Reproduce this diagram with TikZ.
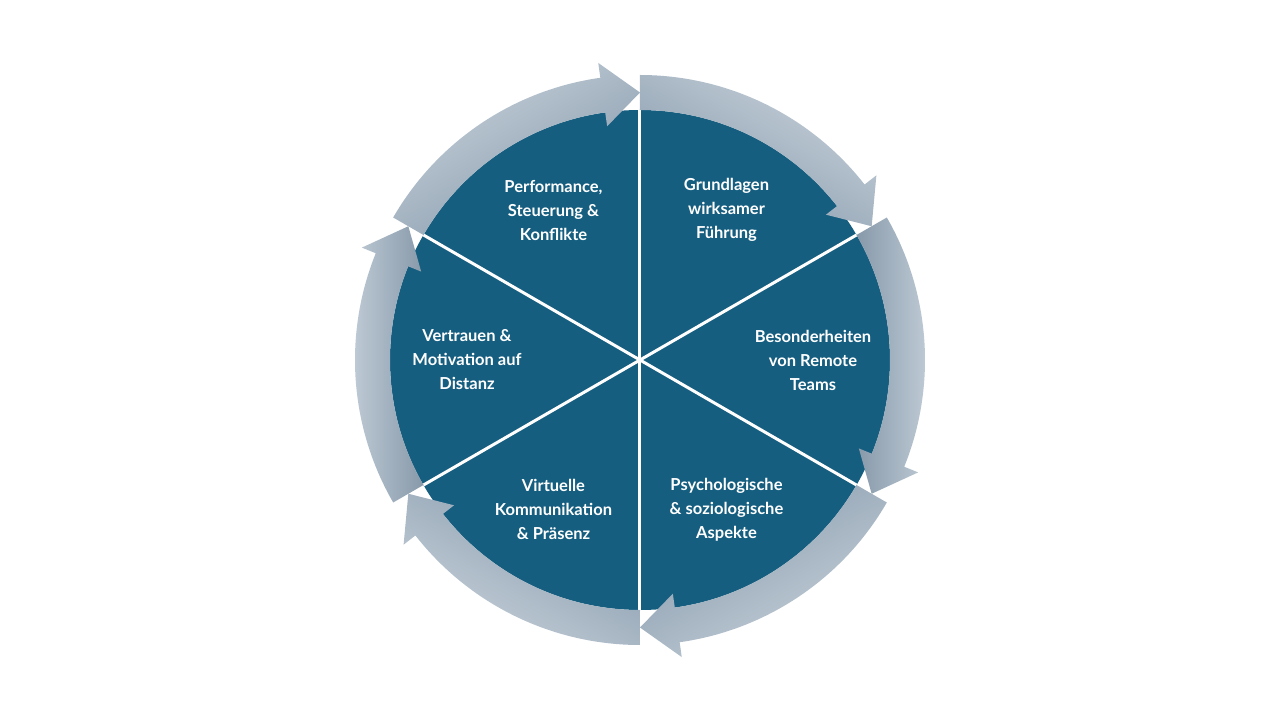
\documentclass[tikz,border=0pt]{standalone}
\usepackage{fontspec}
\setmainfont{Lato}
\begin{document}
\begin{tikzpicture}[x=1pt,y=1pt,
  wedge/.style={fill=wedgeblue},
  sep/.style={white,line width=3pt},
  lbl/.style={white,font=\bfseries\fontsize{16.5}{24}\selectfont,align=center},
  arr/.style={left color=arrlight,right color=arrdark}]
\definecolor{wedgeblue}{HTML}{155E80}
\definecolor{arrlight}{HTML}{C6D1DB}
\definecolor{arrdark}{HTML}{8799AA}
\useasboundingbox (-640,-360) rectangle (640,360);
\coordinate (c) at (0,0);
\fill[wedge] (c) circle[radius=250];
\foreach \a in {90,30,-30,-90,-150,150}
  \draw[sep] (c) -- (\a:250) coordinate (s\a);
\def\ri{250}\def\ro{285}\def\rm{267.5}\def\rii{236}\def\roo{300}
\foreach \a in {90,30,-30,-90,-150,150}{
  \pgfmathsetmacro{\b}{\a-60}
  \pgfmathsetmacro{\h}{\a-52}
  \pgfmathsetmacro{\sa}{\a-120}
  \path[arr,shading angle=\sa] (\a:\ro) arc[start angle=\a,end angle=\h,radius=\ro]
    -- (\h:\roo) -- (\b:\rm) -- (\h:\rii) -- (\h:\ri)
    arc[start angle=\h,end angle=\a,radius=\ri] -- cycle;
}
\node[lbl] (t1) at (60:173) {Grundlagen\\wirksamer\\Führung};
\node[lbl] (t2) at (0:173) {Besonderheiten\\von Remote\\Teams};
\node[lbl] (t3) at (-60:173) {Psychologische\\\& soziologische\\Aspekte};
\node[lbl] (t4) at (-120:173) {Virtuelle\\Kommunikation\\\& Präsenz};
\node[lbl] (t5) at (180:173) {Vertrauen \&\\Motivation auf\\Distanz};
\node[lbl] (t6) at (120:173) {Performance,\\Steuerung \&\\Konflikte};
\end{tikzpicture}
\end{document}
